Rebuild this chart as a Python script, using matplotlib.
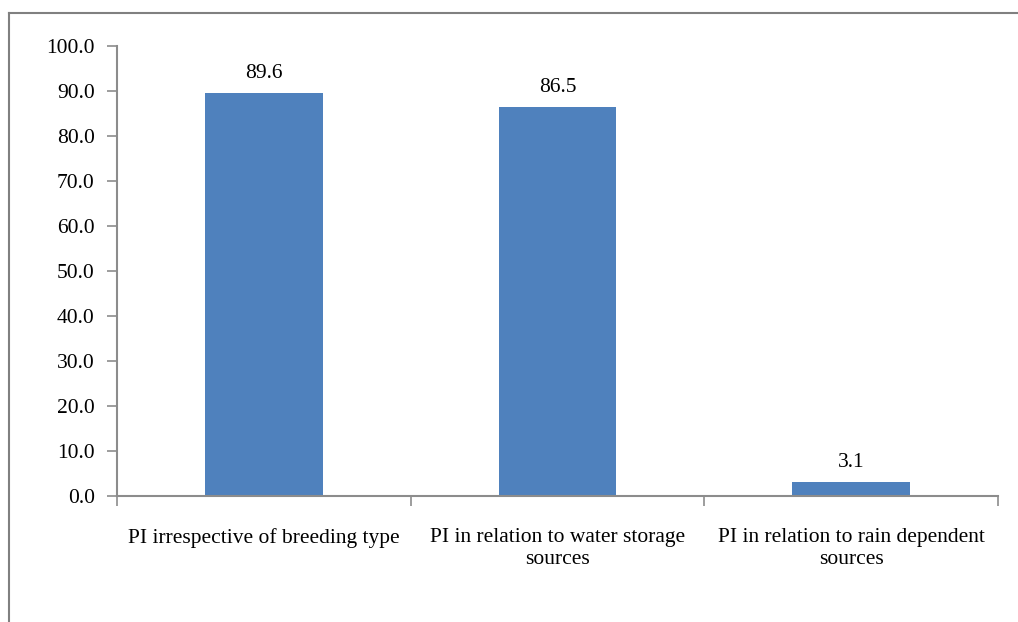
import matplotlib
matplotlib.use("Agg")
import matplotlib.pyplot as plt
from matplotlib.lines import Line2D

categories = [
    "PI irrespective of breeding type",
    "PI in relation to water storage\nsources",
    "PI in relation to rain dependent\nsources",
]
values = [89.6, 86.5, 3.1]
yticks = [0, 10, 20, 30, 40, 50, 60, 70, 80, 90, 100]

plt.rcParams["font.family"] = ["Liberation Serif", "DejaVu Serif"]
FS = 15.5

W, H = 1018, 622
fig = plt.figure(figsize=(W / 100, H / 100), dpi=100)

# plot area in pixel coordinates
left, right, top, bottom = 117, 998, 46, 496
ax = fig.add_axes([left / W, 1 - bottom / H, (right - left) / W, (bottom - top) / H])

axis_col = "#8c8c8c"
bar_col = "#4f81bd"

x = list(range(len(categories)))
ax.bar(x, values, width=0.4, color=bar_col, zorder=2)
ax.set_xlim(-0.5, len(categories) - 0.5)
ax.set_ylim(0, 100)

for xi, v in zip(x, values):
    ax.annotate(f"{v:.1f}", (xi, v), xytext=(0, 7), textcoords="offset points",
                ha="center", va="bottom", fontsize=FS)

ax.set_yticks(yticks)
ax.set_yticklabels([f"{t:.1f}" for t in yticks], fontsize=FS)
ax.tick_params(axis="y", direction="out", length=7, width=1.2, color=axis_col, pad=9)

# category boundaries carry the x tick marks
ax.set_xticks([-0.5, 0.5, 1.5, 2.5])
ax.set_xticklabels([])
ax.tick_params(axis="x", direction="out", length=7, width=1.2, color=axis_col)
for xi, lab in zip(x, categories):
    ax.text(xi, -0.071, lab, transform=ax.get_xaxis_transform(), ha="center", va="top",
            fontsize=FS, linespacing=1.2)

for side in ("top", "right"):
    ax.spines[side].set_visible(False)
for side in ("left", "bottom"):
    ax.spines[side].set_color(axis_col)
    ax.spines[side].set_linewidth(1.5)

# outer chart frame (left and top edges)
frame_col = "#808080"
fig.add_artist(Line2D([9 / W, 9 / W], [0, 1 - 13 / H], transform=fig.transFigure,
                      color=frame_col, lw=1.5))
fig.add_artist(Line2D([9 / W, 1], [1 - 13 / H, 1 - 13 / H], transform=fig.transFigure,
                      color=frame_col, lw=1.5))

fig.savefig("out.png", dpi=100)
